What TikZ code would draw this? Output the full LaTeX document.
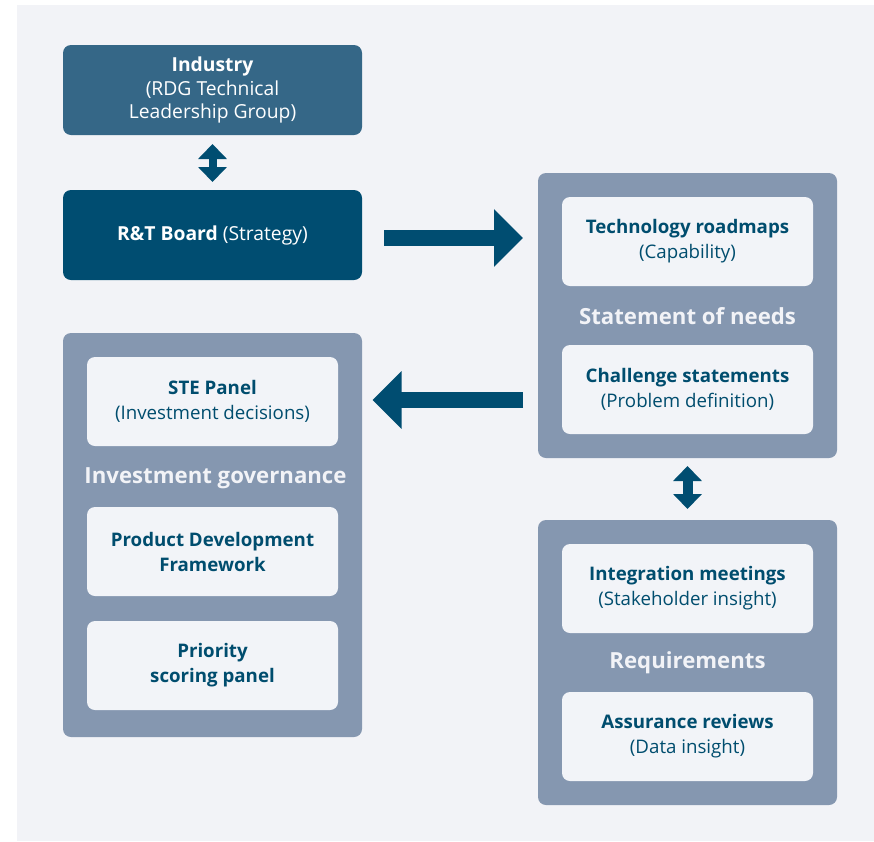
\documentclass[tikz,border=0pt]{standalone}
\usepackage{fontspec}
\setmainfont{Open Sans}
\usetikzlibrary{arrows.meta}
\definecolor{bgc}{HTML}{F2F3F7}
\definecolor{indc}{HTML}{356787}
\definecolor{navy}{HTML}{004D71}
\definecolor{panelc}{HTML}{8597B0}
\definecolor{boxc}{HTML}{F2F4F8}
\definecolor{txtc}{HTML}{004D6E}
\tikzset{
  topbox/.style={rounded corners=8pt, inner sep=0pt, outer sep=0pt, minimum width=299pt, minimum height=90pt, align=center, text=white, font=\fontsize{19.3}{23.2}\selectfont},
  panel/.style={fill=panelc, rounded corners=8pt, inner sep=0pt, outer sep=0pt, minimum width=299pt},
  innerbox/.style={fill=boxc, rounded corners=8pt, inner sep=0pt, outer sep=0pt, minimum width=251pt, minimum height=89pt, align=center, text=txtc, font=\fontsize{18.7}{25}\selectfont},
  ptitle/.style={text=bgc, font=\fontsize{22.2}{26}\selectfont\bfseries, inner sep=0pt},
  bigarrow/.style={draw=navy, line width=16pt, -{Triangle[length=29pt,width=56pt]}},
  dblarrow/.style={draw=navy, {Triangle[length=15pt,width=28pt]}-{Triangle[length=15pt,width=28pt]}},
}
\begin{document}
\begin{tikzpicture}[x=1pt,y=-1pt]
\useasboundingbox (0,0) rectangle (874,841);
\fill[bgc] (17,5) rectangle (874,841);

\node[topbox, fill=indc] (industry) at (212.5,90) {\textbf{Industry}\\(RDG Technical\\Leadership Group)};
\node[topbox, fill=navy] (board) at (212.5,235) {\textbf{R\&T Board} (Strategy)};

\node[panel, minimum height=285pt] (statement) at (687.5,315.5) {};
\node[innerbox] (roadmaps) at (687.5,241.5) {\textbf{Technology roadmaps}\\(Capability)};
\node[ptitle] (sontitle) at (687.5,316) {Statement of needs};
\node[innerbox] (challenge) at (687.5,389.5) {\textbf{Challenge statements}\\(Problem definition)};

\node[panel, minimum height=404pt] (investment) at (212.5,535) {};
\node[innerbox] (ste) at (212.5,401.5) {\textbf{STE Panel}\\(Investment decisions)};
\node[ptitle] (igtitle) at (215.5,478) {Investment governance};
\node[innerbox] (pdf) at (212.5,551.5) {\textbf{Product Development}\\\textbf{Framework}};
\node[innerbox] (priority) at (212.5,665.5) {\textbf{Priority}\\\textbf{scoring panel}};

\node[panel, minimum height=285pt] (requirements) at (687.5,662.5) {};
\node[innerbox] (integration) at (687.5,588.5) {\textbf{Integration meetings}\\(Stakeholder insight)};
\node[ptitle] (reqtitle) at (687.5,663) {Requirements};
\node[innerbox] (assurance) at (687.5,736.5) {\textbf{Assurance reviews}\\(Data insight)};

\draw[dblarrow, line width=8pt, shorten <=9pt, shorten >=8pt] (industry.south) -- (board.north);
\draw[dblarrow, line width=10pt, shorten <=8pt, shorten >=11pt] (statement.south) -- (requirements.north);
\draw[bigarrow] ([xshift=22pt]board.east |- 0,238) -- ([xshift=-15pt]statement.west |- 0,238);
\draw[bigarrow] ([xshift=-15pt]statement.west |- 0,400) -- ([xshift=10.5pt]investment.east |- 0,400);
\end{tikzpicture}
\end{document}
